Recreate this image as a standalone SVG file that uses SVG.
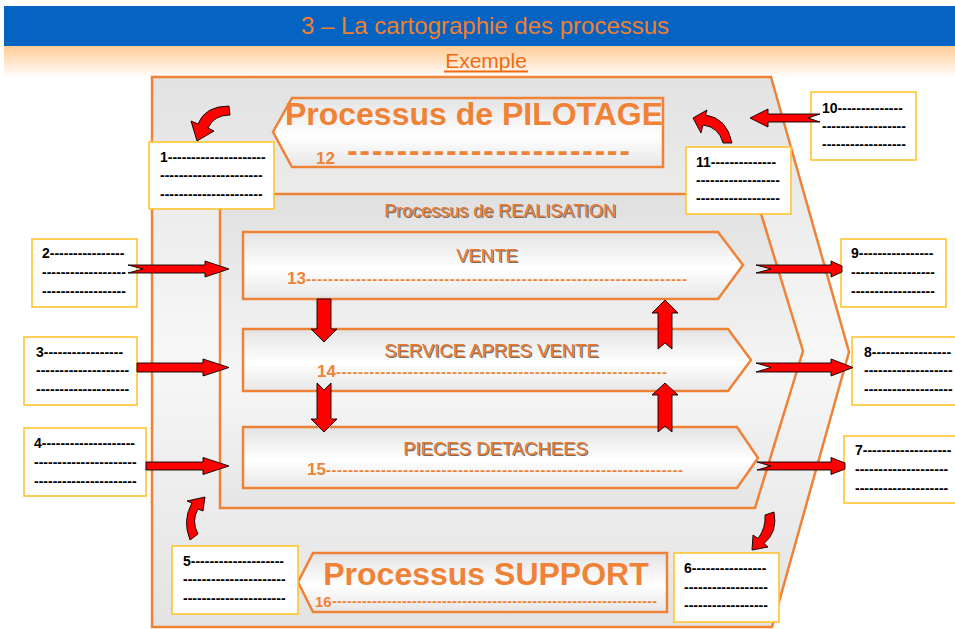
<svg xmlns="http://www.w3.org/2000/svg" width="955" height="629" viewBox="0 0 955 629">
  <defs>
    <linearGradient id="peach" x1="0" y1="0" x2="0" y2="1">
      <stop offset="0" stop-color="#FFCB96"/>
      <stop offset="1" stop-color="#FFFFFF"/>
    </linearGradient>
    <linearGradient id="outerFill" x1="0" y1="0" x2="0" y2="1">
      <stop offset="0" stop-color="#E2E2E2"/>
      <stop offset="0.5" stop-color="#F7F7F7"/>
      <stop offset="1" stop-color="#E3E3E3"/>
    </linearGradient>
    <linearGradient id="realFill" x1="0" y1="0" x2="0" y2="1">
      <stop offset="0" stop-color="#E0E0E0"/>
      <stop offset="0.6" stop-color="#F6F6F6"/>
      <stop offset="1" stop-color="#E5E5E5"/>
    </linearGradient>
    <linearGradient id="procFill" x1="0" y1="0" x2="0" y2="1">
      <stop offset="0" stop-color="#E3E3E3"/>
      <stop offset="0.55" stop-color="#FFFFFF"/>
      <stop offset="1" stop-color="#E6E6E6"/>
    </linearGradient>
    <style>
      .frame { stroke: #EF8236; stroke-width: 2.5; stroke-linejoin: miter; }
      .proc { fill: url(#procFill); stroke: #EF8236; stroke-width: 2.5; }
      .note rect { fill: #FFFFFF; stroke: #FFC42E; stroke-width: 1.6; }
      .note text { font-family: "Liberation Sans", Arial, sans-serif; font-size: 14px; font-weight: bold; fill: #000000; }
      .big { font-family: "Liberation Sans", Arial, sans-serif; font-size: 32px; font-weight: bold; fill: #EF8236; text-anchor: middle; }
      .lbl { font-family: "Liberation Sans", Arial, sans-serif; font-size: 18.5px; text-anchor: middle; fill: #EC7A2C; }
      .lbl.sh { fill: #6E6E6E; }
      .lbl.sm { font-size: 18px; }
      .num { font-family: "Liberation Sans", Arial, sans-serif; font-size: 17px; font-weight: bold; fill: #EF8236; }
      .num.sm { font-size: 15px; }
      .bigdash { font-family: "DejaVu Sans", sans-serif; font-size: 26px; font-weight: bold; fill: #EF8236; }
      .dash { font-family: "Liberation Sans", Arial, sans-serif; font-size: 15px; font-weight: bold; fill: #EF8236; }
      .dash.sm { font-size: 14px; }
      .arrow { fill: #FF0000; stroke: #000000; stroke-width: 0.9; stroke-linejoin: miter; }
    </style>
  </defs>

  <!-- page background -->
  <rect x="0" y="0" width="955" height="629" fill="#FFFFFF"/>
  <rect x="4" y="46" width="951" height="32" fill="url(#peach)"/>
  <rect x="4" y="6" width="951" height="40" fill="#0563C1"/>
  <text x="485" y="34" font-family="'Liberation Sans', Arial, sans-serif" font-size="24" fill="#F07F2E" text-anchor="middle">3 – La cartographie des processus</text>
  <text x="486" y="68" font-family="'Liberation Sans', Arial, sans-serif" font-size="21" fill="#F26A10" text-anchor="middle">Exemple</text>
  <line x1="444" y1="71.5" x2="528" y2="71.5" stroke="#F26A10" stroke-width="2"/>

  <!-- outer process map frame -->
  <g id="cartographie">
    <polygon class="frame" fill="url(#outerFill)" points="152,77 771,77 849,352 772,627 152,627"/>
  </g>

  <!-- realisation block -->
  <g id="realisation">
    <polygon class="frame" fill="url(#realFill)" points="220,194 755,194 803,351 755,508 220,508"/>
    <text class="lbl sh sm" x="501.3" y="218.3">Processus de REALISATION</text>
    <text class="lbl sm" x="500" y="217">Processus de REALISATION</text>
  </g>

  <!-- pilotage -->
  <g id="pilotage">
    <polygon class="proc" points="292,98 663,98 663,167 292,167 273,132"/>
    <text class="big" x="474" y="125">Processus de PILOTAGE</text>
    <text class="num" x="316" y="164">12</text>
    <text class="bigdash" x="347" y="161" textLength="283" lengthAdjust="spacing">-----------------------</text>
  </g>

  <!-- support -->
  <g id="support">
    <polygon class="proc" points="313,553 667,553 667,612 313,612 298,582"/>
    <text class="big" x="486" y="585">Processus SUPPORT</text>
    <text class="num sm" x="315" y="607">16</text>
    <text class="dash sm" x="332" y="606" textLength="325" lengthAdjust="spacing">-----------------------------------------------------------------</text>
  </g>

  <!-- realisation processes -->
  <g id="vente">
    <polygon class="proc" points="243,232 718,232 743,265 718,299 243,299"/>
    <text class="lbl sh" x="488.2" y="263.2">VENTE</text>
    <text class="lbl" x="487" y="262">VENTE</text>
    <text class="num" x="287" y="284">13</text>
    <text class="dash" x="306" y="284" textLength="381" lengthAdjust="spacing">---------------------------------------------------------------------</text>
  </g>
  <g id="sav">
    <polygon class="proc" points="243,329 728,329 751,360 728,391 243,391"/>
    <text class="lbl sh" x="492.7" y="358.2">SERVICE APRES VENTE</text>
    <text class="lbl" x="491.5" y="357">SERVICE APRES VENTE</text>
    <text class="num" x="317" y="377">14</text>
    <text class="dash" x="336" y="377" textLength="331" lengthAdjust="spacing">------------------------------------------------------------</text>
  </g>
  <g id="pieces">
    <polygon class="proc" points="243,427 737,427 758,458 737,488 243,488"/>
    <text class="lbl sh" x="496.7" y="456.2">PIECES DETACHEES</text>
    <text class="lbl" x="495.5" y="455">PIECES DETACHEES</text>
    <text class="num" x="307" y="475">15</text>
    <text class="dash" x="326" y="475" textLength="357" lengthAdjust="spacing">-----------------------------------------------------------------</text>
  </g>

  <!-- numbered notes -->
  <g id="note1" class="note">
    <rect x="149" y="142" width="125" height="67"/>
    <text x="160" y="162">1---------------------</text>
    <text x="160" y="180">----------------------</text>
    <text x="160" y="199">----------------------</text>
  </g>
  <g id="note2" class="note">
    <rect x="32" y="239" width="105" height="68"/>
    <text x="42" y="258">2----------------</text>
    <text x="42" y="277">------------------</text>
    <text x="42" y="296">------------------</text>
  </g>
  <g id="note3" class="note">
    <rect x="24" y="337" width="113" height="68"/>
    <text x="36" y="357">3-----------------</text>
    <text x="36" y="375">--------------------</text>
    <text x="36" y="394">--------------------</text>
  </g>
  <g id="note4" class="note">
    <rect x="24" y="428" width="122" height="68"/>
    <text x="34" y="448">4--------------------</text>
    <text x="34" y="467">----------------------</text>
    <text x="34" y="486">----------------------</text>
  </g>
  <g id="note5" class="note">
    <rect x="172" y="546" width="126" height="68"/>
    <text x="183" y="566">5--------------------</text>
    <text x="183" y="584">----------------------</text>
    <text x="183" y="603">----------------------</text>
  </g>
  <g id="note6" class="note">
    <rect x="674" y="553" width="105" height="69"/>
    <text x="684" y="573">6----------------</text>
    <text x="684" y="592">------------------</text>
    <text x="684" y="610">------------------</text>
  </g>
  <g id="note7" class="note">
    <rect x="844" y="436" width="125" height="67"/>
    <text x="855" y="455">7-------------------</text>
    <text x="855" y="474">--------------------</text>
    <text x="855" y="493">--------------------</text>
  </g>
  <g id="note8" class="note">
    <rect x="852" y="337" width="115" height="68"/>
    <text x="864" y="357">8-----------------</text>
    <text x="864" y="375">-------------------</text>
    <text x="864" y="394">-------------------</text>
  </g>
  <g id="note9" class="note">
    <rect x="841" y="239" width="105" height="68"/>
    <text x="851" y="258">9----------------</text>
    <text x="851" y="277">------------------</text>
    <text x="851" y="296">------------------</text>
  </g>
  <g id="note10" class="note">
    <rect x="811" y="92" width="105" height="68"/>
    <text x="822" y="113">10--------------</text>
    <text x="822" y="131">------------------</text>
    <text x="822" y="149">------------------</text>
  </g>
  <g id="note11" class="note">
    <rect x="686" y="147" width="105" height="67"/>
    <text x="696" y="167">11--------------</text>
    <text x="696" y="185">------------------</text>
    <text x="696" y="203">------------------</text>
  </g>

  <!-- connectors: block arrows -->
  <g id="connectors" class="arrow">
    <!-- inputs into realisation -->
    <path d="M128,265 L205,265 L205,261 L229,269 L205,277 L205,273 L128,273 L143,269 Z"/>
    <path d="M137,363 L203,363 L203,359 L229,367.5 L203,376 L203,372 L137,372 Z"/>
    <path d="M146,462 L203,462 L203,457.5 L229,466 L203,474.5 L203,470 L146,470 Z"/>
    <!-- outputs of realisation -->
    <path d="M756,265 L831,265 L831,261 L842,266 L842,272 L831,277 L831,273 L756,273 L771,269 Z"/>
    <path d="M756,363 L831,363 L831,359 L853,367.5 L831,376 L831,372 L756,372 L771,367.5 Z"/>
    <path d="M757,462 L831,462 L831,457.5 L845,463 L845,469 L831,474.5 L831,470 L757,470 L771,466 Z"/>
    <!-- input from note 10 -->
    <path d="M750,118 L768,109 L768,114 L820,114 L808,118 L820,122 L768,122 L768,127 Z"/>
    <!-- flows between realisation processes -->
    <path d="M317,299 L331,299 L331,329 L337,329 L324,342 L311,329 L317,329 Z"/>
    <path d="M317,383 L324,390 L331,383 L331,419 L337,419 L324,432 L311,419 L317,419 Z"/>
    <path d="M665,300 L678,313 L672,313 L672,349 L665,343 L658,349 L658,313 L652,313 Z"/>
    <path d="M665,383 L678,395 L672,395 L672,432 L665,426 L658,432 L658,395 L652,395 Z"/>
    <!-- curved arrows -->
    <path d="M197,141 L191,121 L198,124 Q205,106 229,106 L230,115 Q214,115 208,128 L214,131 Z"/>
    <path d="M693,118 L707,110 L705.5,115 Q727,118 732,143 L723,143 Q719,127 703,125 L701,133 Z"/>
    <path d="M205,497 L203,511 L198,509 Q191,521 198,534 L190,540 Q182,520 192,503 L187,501 Z"/>
    <path d="M752,550 L753,535 L758,538.5 Q766,528 765,515 L774,512 Q778,532 764,543.5 L768,547 Z"/>
  </g>
</svg>
